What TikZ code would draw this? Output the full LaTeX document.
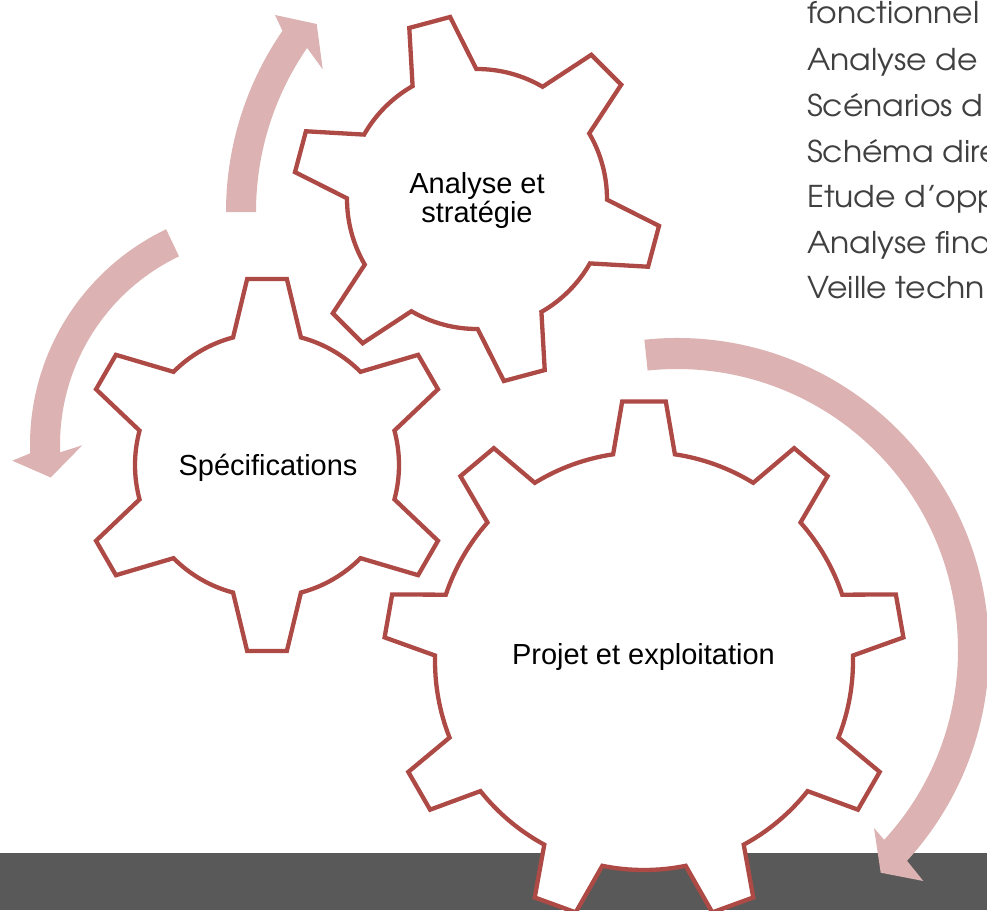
\documentclass[tikz,border=0pt]{standalone}
\usepackage{fontspec}
\setmainfont{Liberation Sans}
\newfontfamily\gothic[FakeStretch=1.05]{texgyreadventor-regular.otf}
\usetikzlibrary{calc}
\definecolor{gearred}{HTML}{AE4A45}
\definecolor{arrowpink}{HTML}{DCB2B2}
\definecolor{bargray}{HTML}{595959}
\definecolor{textgray}{HTML}{404040}
\tikzset{
  gearline/.style={draw=gearred, fill=white, line width=4.3pt, line join=miter},
  arrowshape/.style={fill=arrowpink, draw=none},
  gearlabel/.style={font=\fontsize{29}{29}\selectfont, text=black, inner sep=0pt, align=center},
  sidetext/.style={font=\gothic\fontsize{30}{36}\selectfont, text=textgray, anchor=base west, inner sep=0pt},
}
% #1 centre, #2 root radius, #3 tip radius, #4 teeth, #5 first tooth angle, #6 base half-angle, #7 tip half-angle
\newcommand\drawgear[7]{%
  \draw[gearline] ($(#1)+({#5-#6}:#2)$)
  \foreach \k in {1,...,#4}{
    -- ($(#1)+({#5+(\k-1)*360/#4-#7}:#3)$)
    -- ($(#1)+({#5+(\k-1)*360/#4+#7}:#3)$)
    -- ($(#1)+({#5+(\k-1)*360/#4+#6}:#2)$)
    arc[start angle={#5+(\k-1)*360/#4+#6}, end angle={#5+\k*360/#4-#6}, radius=#2pt]
  } -- cycle;
}
\begin{document}
\begin{tikzpicture}[x=1pt,y=1pt]
\useasboundingbox (0,0) rectangle (987,-910);
\clip (0,0) rectangle (987,-910);
% bottom bar
\fill[bargray] (0,-853) rectangle (987,-910);
% arrow centres
\coordinate (cA) at (545,-212);
\coordinate (cB) at (269,-445);
\coordinate (cC) at (677,-650);
% arrow A (up)
\fill[arrowshape] ($(cA)+(180:319)$) arc[start angle=180,end angle=145.4,radius=319pt]
  -- (275,-15) -- (316.7,-24) -- (322.7,-69.3)
  -- ($(cA)+(145.4:289)$) arc[start angle=145.4,end angle=180,radius=289pt] -- cycle;
% arrow B (left, down)
\fill[arrowshape] ($(cB)+(115.5:239)$) arc[start angle=115.5,end angle=182,radius=239pt]
  -- (12.3,-460.7) -- (50.7,-477.5) -- (82.3,-445.3)
  -- ($(cB)+(182:209)$) arc[start angle=182,end angle=115.5,radius=209pt] -- cycle;
% arrow C (right, big)
\fill[arrowshape] ($(cC)+(96:312)$) arc[start angle=96,end angle=-42.5,radius=312pt]
  -- (923.3,-881) -- (880.7,-872.7) -- (874,-828)
  -- ($(cC)+(-42.5:281)$) arc[start angle=-42.5,end angle=96,radius=281pt] -- cycle;
% gears
\coordinate (g1) at (477,-199);
\coordinate (g2) at (267,-465);
\coordinate (g3) at (644,-661);
\drawgear{g1}{130}{184}{6}{105}{14.7}{6.6}
\drawgear{g2}{132}{187}{6}{90}{14.9}{6.1}
\drawgear{g3}{209}{260.5}{9}{90}{8.5}{4.8}
% gear labels
\node[gearlabel] (t1) at (477,-200) {Analyse et\\stratégie};
\node[gearlabel, anchor=base] (t2) at (268,-475) {Spécifications};
\node[gearlabel, anchor=base] (t3) at (643.5,-664.6) {Projet et exploitation};
% side text
\node[sidetext] (s1) at (807,-23.3) {fonctionnel};
\node[sidetext] (s2) at (807,-70) {Analyse de};
\node[sidetext] (s3) at (807,-116) {Scénarios d};
\node[sidetext] (s4) at (807,-162.3) {Schéma dire};
\node[sidetext] (s5) at (807,-207.3) {Etude d’opp};
\node[sidetext] (s6) at (807,-253.3) {Analyse fina};
\node[sidetext] (s7) at (807,-298.3) {Veille techn};
\end{tikzpicture}
\end{document}
